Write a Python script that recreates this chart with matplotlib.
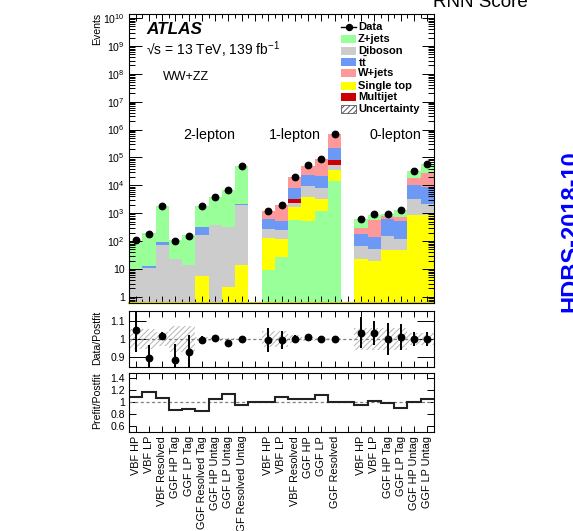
import numpy as np
import matplotlib
matplotlib.use("Agg")
import matplotlib.pyplot as plt
from matplotlib.patches import Rectangle
from matplotlib.lines import Line2D
from matplotlib.ticker import FixedLocator, FixedFormatter, LogLocator, NullFormatter

plt.rcParams['font.family'] = ['Liberation Sans', 'DejaVu Sans']
plt.rcParams['mathtext.fontset'] = 'custom'
plt.rcParams['mathtext.rm'] = 'Liberation Sans'
plt.rcParams['mathtext.it'] = 'Liberation Sans:italic'
plt.rcParams['mathtext.bf'] = 'Liberation Sans:bold'
plt.rcParams['hatch.linewidth'] = 0.7

# ---------------------------------------------------------------- data
region_names = ["2-lepton", "1-lepton", "0-lepton"]
bin_labels = ["VBF HP", "VBF LP", "VBF Resolved", "GGF HP Tag", "GGF LP Tag",
              "GGF Resolved Tag", "GGF HP Untag", "GGF LP Untag", "GGF Resolved Untag", "",
              "VBF HP", "VBF LP", "VBF Resolved", "GGF HP", "GGF LP", "GGF Resolved", "",
              "VBF HP", "VBF LP", "GGF HP Tag", "GGF LP Tag", "GGF HP Untag", "GGF LP Untag"]
bin_region = [0] * 9 + [-1] + [1] * 6 + [-1] + [2] * 6

zjets = [90, 183, 1700, 90, 148, 1440, 3400, 6600, 47000, 0,
         9, 27, 590, 515, 1170, 13900, 0,
         300, 300, 125, 550, 13600, 31400]
diboson = [9.5, 11, 75, 23, 14.4, 165, 390, 320, 2000, 0,
           144, 135, 650, 5500, 4760, 18500, 0,
           47, 32, 102, 74, 2450, 1310]
ttbar = [0.3, 1.5, 21, 0, 0, 140, 0, 10, 130, 0,
         356, 282, 4760, 14800, 12900, 135000, 0,
         117, 89, 482, 395, 6660, 6700]
wjets = [0, 0, 0, 0, 0, 0, 0, 0, 0, 0,
         570, 1460, 11900, 27000, 66000, 492000, 0,
         114, 449, 145, 195, 8400, 19700]
singletop = [0, 0, 0, 0, 0, 5.5, 0, 2.2, 14.4, 0,
             121, 96, 1100, 3185, 2170, 22600, 0,
             22, 20, 46, 46, 890, 890]
multijet = [0, 0, 0, 0, 0, 0, 0, 0, 0, 0,
            0, 0, 1000, 0, 0, 28000, 0,
            0, 0, 0, 0, 0, 0]

data = [105, 175, 1830, 100, 151, 1740, 3805, 6790, 49150, np.nan,
        1193, 1988, 20000, 51660, 87000, 710000, np.nan,
        621, 921, 900, 1276, 32000, 60000]
data_rel_err = [0.12, 0.08, 0.02, 0.10, 0.10, 0.02, 0.015, 0.007, 0.004, np.nan,
                0.065, 0.05, 0.02, 0.008, 0.005, 0.003, np.nan,
                0.082, 0.065, 0.088, 0.07, 0.036, 0.038]
bkg_rel_unc = [0.055, 0.055, 0.04, 0.07, 0.07, 0.012, 0.01, 0.008, 0.005, 0,
               0.045, 0.045, 0.02, 0.01, 0.008, 0.006, 0,
               0.06, 0.06, 0.06, 0.06, 0.035, 0.035]
prefit_over_postfit = [1.072, 1.167, 1.056, 0.861, 0.878, 0.839, 1.044, 1.128, 0.944, 0.99,
                       0.995, 1.072, 1.044, 1.044, 1.111, 1.0, 0.995,
                       0.944, 1.017, 0.972, 0.90, 0.99, 1.044]

processes = {
    "Z+jets": (zjets, "#99ff99"),
    "Diboson": (diboson, "#cccccc"),
    "ttbar": (ttbar, "#6b99f5"),
    "W+jets": (wjets, "#ff9999"),
    "Single top": (singletop, "#ffff00"),
    "Multijet": (multijet, "#cc0000"),
}
# stacking order (bottom -> top) in each lepton channel
stack_order = {
    0: ["Single top", "Diboson", "ttbar", "W+jets", "Multijet", "Z+jets"],
    1: ["Z+jets", "Single top", "Diboson", "Multijet", "ttbar", "W+jets"],
    2: ["Single top", "Diboson", "ttbar", "W+jets", "Multijet", "Z+jets"],
}

# ---------------------------------------------------------------- figure
W, H = 573, 531
fig = plt.figure(figsize=(W / 100, H / 100), dpi=100)


def axes_px(x0, x1, y0, y1):
    return fig.add_axes([x0 / W, 1 - y1 / H, (x1 - x0) / W, (y1 - y0) / H])


ax = axes_px(129, 434, 14, 303)
axr = axes_px(129, 434, 311, 367)
axp = axes_px(129, 434, 372.7, 431.7)

nb = len(bin_labels)
x = np.arange(nb)
edges = np.arange(nb + 1) - 0.5
floor = 1e-3

# stacked backgrounds
totals = np.zeros(nb)
for name, (vals, _) in processes.items():
    totals += np.array(vals, float)

for name, (vals, col) in processes.items():
    vals = np.array(vals, float)
    bottoms = np.zeros(nb)
    for i in range(nb):
        r = bin_region[i]
        if r < 0:
            continue
        order = stack_order[r]
        for other in order[:order.index(name)]:
            bottoms[i] += processes[other][0][i]
    ax.bar(x, vals, bottom=bottoms + floor, width=1.0, color=col,
           edgecolor='none', linewidth=0, zorder=1)

data = np.array(data, float)
ax.plot(x, data, 'o', color='black', markersize=4.6, zorder=5)

ax.set_yscale('log')
ax.set_ylim(0.6, 1.4e10)
ax.set_xlim(-0.5, nb - 0.5)
ax.plot([-0.5, nb - 0.5], [0.61, 0.61], color='#d8d800', lw=1.6, zorder=2, clip_on=False)

ymaj = [1, 10] + [10.0 ** k for k in range(2, 11)]
ylab = ["1", "10"] + [r"10$^{%d}$" % k for k in range(2, 11)]
ax.yaxis.set_major_locator(FixedLocator(ymaj))
ax.yaxis.set_major_formatter(FixedFormatter(ylab))
ax.yaxis.set_minor_locator(LogLocator(base=10, subs=np.arange(2, 10), numticks=30))
ax.yaxis.set_minor_formatter(NullFormatter())
ax.xaxis.set_major_locator(FixedLocator(x))
ax.xaxis.set_minor_locator(FixedLocator(edges))
ax.tick_params(axis='both', which='both', direction='in', top=True, right=True,
               labelbottom=False, width=0.7, colors='black')
ax.tick_params(axis='y', which='major', length=9, labelsize=7.6, pad=3)
ax.tick_params(axis='y', which='minor', length=4.5)
ax.tick_params(axis='x', which='major', length=5)
ax.tick_params(axis='x', which='minor', length=3)

# ratio: data / postfit
ratio = data / totals
unc = np.array(bkg_rel_unc, float)
axr.bar(x, 2 * unc, bottom=1 - unc, width=1.0, fill=False, hatch='//////',
        edgecolor='#b5b5b5', linewidth=0, zorder=1)
axr.axhline(1.0, color='#808080', lw=0.9, ls=(0, (2.5, 2)), zorder=2)
axr.errorbar(x, ratio, yerr=np.array(data_rel_err, float) * ratio, fmt='o', color='black',
             markersize=4.6, elinewidth=1.4, capsize=0, zorder=5)
axr.set_xlim(-0.5, nb - 0.5)
axr.set_ylim(0.845, 1.155)
axr.yaxis.set_major_locator(FixedLocator([0.9, 1.0, 1.1]))
axr.yaxis.set_major_formatter(FixedFormatter(["0.9", "1", "1.1"]))
axr.xaxis.set_major_locator(FixedLocator(x))
axr.tick_params(axis='both', which='both', direction='in', top=True, right=True,
                labelbottom=False, width=0.7, labelsize=7.6)
axr.tick_params(axis='y', which='major', length=12, pad=3)
axr.tick_params(axis='x', which='major', length=4)

# ratio: prefit / postfit
axp.stairs(prefit_over_postfit, edges, baseline=None, color='#222222', lw=1.5, zorder=3)
axp.axhline(1.0, color='#808080', lw=0.9, ls=(0, (2.5, 2)), zorder=2)
axp.set_xlim(-0.5, nb - 0.5)
axp.set_ylim(0.5, 1.48)
axp.yaxis.set_major_locator(FixedLocator([0.6, 0.8, 1.0, 1.2, 1.4]))
axp.yaxis.set_major_formatter(FixedFormatter(["0.6", "0.8", "1", "1.2", "1.4"]))
axp.xaxis.set_major_locator(FixedLocator(x))
axp.set_xticklabels(bin_labels, rotation=90, ha='center', va='top', fontsize=7.8)
axp.tick_params(axis='both', which='both', direction='in', top=True, right=True,
                width=0.7, labelsize=7.6)
axp.tick_params(axis='y', which='major', length=5, pad=3)
axp.tick_params(axis='x', which='major', length=4, pad=3, labelsize=7.8)

for a in (ax, axr, axp):
    for s in a.spines.values():
        s.set_linewidth(0.8)
        s.set_zorder(10)


def ftext(px, py, s, **kw):
    return fig.text(px / W, 1 - py / H, s, **kw)


# axis titles
ftext(97, 13, "Events", rotation=90, rotation_mode='anchor', ha='right', va='center', fontsize=7.6)
ftext(97, 311, "Data/Postfit", rotation=90, rotation_mode='anchor', ha='right', va='center', fontsize=7.6)
ftext(97, 372, "Prefit/Postfit", rotation=90, rotation_mode='anchor', ha='right', va='center', fontsize=7.6)

# labels inside the main panel
ftext(146, 34, "ATLAS", fontsize=12.3, fontweight='bold', fontstyle='italic', va='baseline')
ftext(146, 55, r"√s = 13 TeV, 139 fb$^{-1}$", fontsize=10, va='baseline')
ftext(163, 80, "WW+ZZ", fontsize=9, va='baseline')
for name, cx in zip(region_names, [209, 294.5, 395]):
    ftext(cx, 139, name, fontsize=10.3, ha='center', va='baseline')

# legend
leg_rows = [26.7, 39, 50.7, 62, 73.3, 85.7, 97.3, 109]
leg_entries = [("Data", None), ("Z+jets", "Z+jets"), ("Diboson", "Diboson"),
               (r"$\mathbf{t\bar{t}}$", "ttbar"), ("W+jets", "W+jets"),
               ("Single top", "Single top"), ("Multijet", "Multijet"),
               ("Uncertainty", "unc")]
for (label, key), ry in zip(leg_entries, leg_rows):
    if key is None:
        fig.add_artist(Line2D([341 / W, 356 / W], [1 - ry / H] * 2, color='black', lw=1.0,
                              transform=fig.transFigure))
        fig.add_artist(Line2D([348.5 / W], [1 - ry / H], marker='o', markersize=4.3,
                              color='black', transform=fig.transFigure))
    elif key == "unc":
        fig.add_artist(Rectangle((341 / W, 1 - (ry + 4) / H), 15 / W, 8 / H, facecolor='white',
                                 edgecolor='#555555', hatch='//////', lw=0.6,
                                 transform=fig.transFigure))
    else:
        fig.add_artist(Rectangle((341 / W, 1 - (ry + 4) / H), 15 / W, 8 / H,
                                 facecolor=processes[key][1], edgecolor='none',
                                 transform=fig.transFigure))
    ftext(358, ry, label, fontsize=8.0, fontweight='bold', va='center')

# neighbouring page elements
ftext(433, 7, "RNN Score", fontsize=13.5, va='baseline')
fig.text(577 / W, 1 - 312 / H, "HDBS-2018-10", rotation=90, rotation_mode='anchor',
         ha='left', va='baseline', fontsize=17, fontweight='bold', color='#0000ff')

fig.savefig("out.png", dpi=100)
